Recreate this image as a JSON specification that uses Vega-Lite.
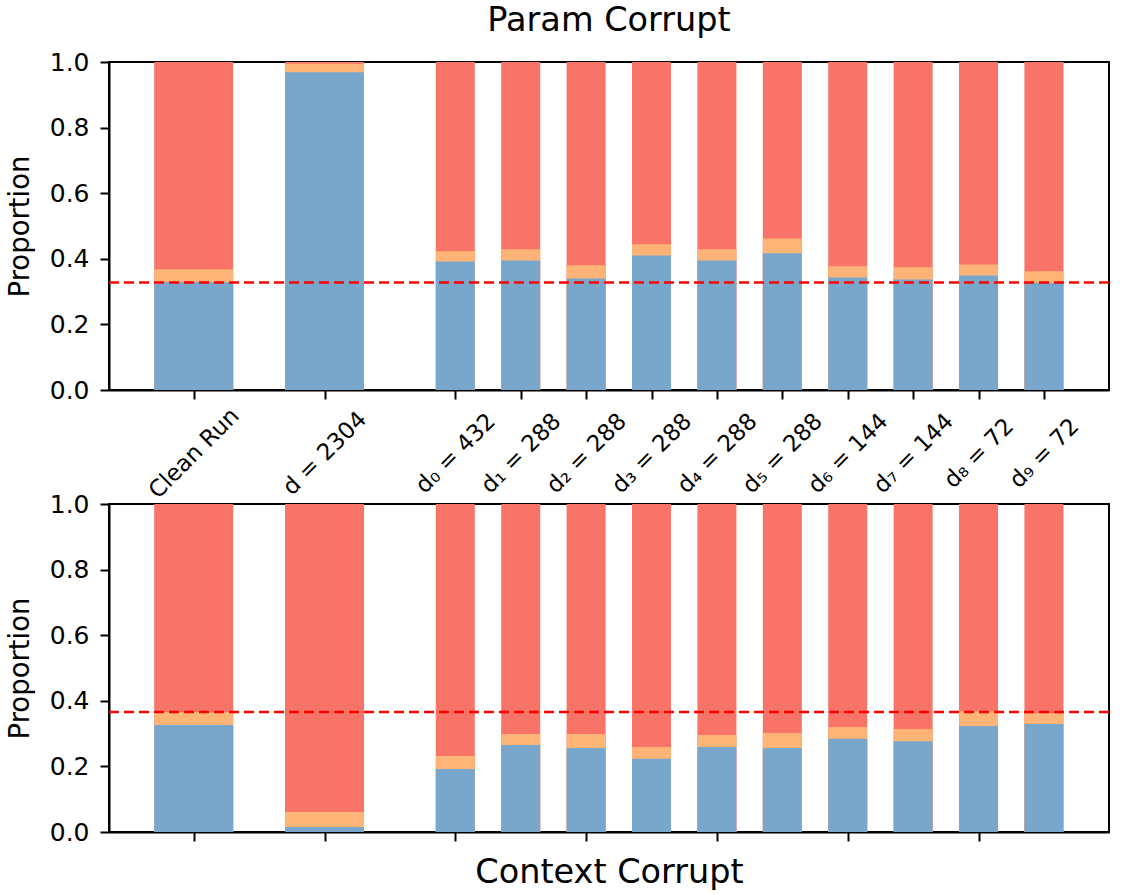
{
  "$schema": "https://vega.github.io/schema/vega-lite/v6.json",
  "padding": {"left": 5, "top": 2, "right": 5, "bottom": 5},
  "background": "white",
  "bounds": "flush",
  "spacing": 114,
  "config": {
    "font": "DejaVu Sans",
    "view": {"stroke": "black", "strokeWidth": 2},
    "axis": {"domainColor": "black", "domainWidth": 2, "tickColor": "black", "tickWidth": 2, "tickSize": 9, "labelColor": "black", "titleColor": "black", "grid": false, "titleFontWeight": "normal"},
    "title": {"fontWeight": "normal", "fontSize": 33.5, "color": "black"}
  },
  "datasets": {
    "bars": [
      {"panel": "Param Corrupt", "label": "Clean Run", "group": "overall", "lower": 0.329, "upper": 0.368},
      {"panel": "Param Corrupt", "label": "d = 2304", "group": "overall", "lower": 0.969, "upper": 0.995},
      {"panel": "Param Corrupt", "label": "d₀ = 432", "group": "sub", "lower": 0.392, "upper": 0.423},
      {"panel": "Param Corrupt", "label": "d₁ = 288", "group": "sub", "lower": 0.395, "upper": 0.429},
      {"panel": "Param Corrupt", "label": "d₂ = 288", "group": "sub", "lower": 0.340, "upper": 0.380},
      {"panel": "Param Corrupt", "label": "d₃ = 288", "group": "sub", "lower": 0.410, "upper": 0.444},
      {"panel": "Param Corrupt", "label": "d₄ = 288", "group": "sub", "lower": 0.395, "upper": 0.429},
      {"panel": "Param Corrupt", "label": "d₅ = 288", "group": "sub", "lower": 0.417, "upper": 0.462},
      {"panel": "Param Corrupt", "label": "d₆ = 144", "group": "sub", "lower": 0.343, "upper": 0.377},
      {"panel": "Param Corrupt", "label": "d₇ = 144", "group": "sub", "lower": 0.337, "upper": 0.374},
      {"panel": "Param Corrupt", "label": "d₈ = 72", "group": "sub", "lower": 0.349, "upper": 0.383},
      {"panel": "Param Corrupt", "label": "d₉ = 72", "group": "sub", "lower": 0.326, "upper": 0.362},
      {"panel": "Context Corrupt", "label": "Clean Run", "group": "overall", "lower": 0.326, "upper": 0.366},
      {"panel": "Context Corrupt", "label": "d = 2304", "group": "overall", "lower": 0.015, "upper": 0.061},
      {"panel": "Context Corrupt", "label": "d₀ = 432", "group": "sub", "lower": 0.192, "upper": 0.232},
      {"panel": "Context Corrupt", "label": "d₁ = 288", "group": "sub", "lower": 0.265, "upper": 0.299},
      {"panel": "Context Corrupt", "label": "d₂ = 288", "group": "sub", "lower": 0.256, "upper": 0.299},
      {"panel": "Context Corrupt", "label": "d₃ = 288", "group": "sub", "lower": 0.223, "upper": 0.259},
      {"panel": "Context Corrupt", "label": "d₄ = 288", "group": "sub", "lower": 0.259, "upper": 0.296},
      {"panel": "Context Corrupt", "label": "d₅ = 288", "group": "sub", "lower": 0.256, "upper": 0.302},
      {"panel": "Context Corrupt", "label": "d₆ = 144", "group": "sub", "lower": 0.284, "upper": 0.320},
      {"panel": "Context Corrupt", "label": "d₇ = 144", "group": "sub", "lower": 0.277, "upper": 0.314},
      {"panel": "Context Corrupt", "label": "d₈ = 72", "group": "sub", "lower": 0.323, "upper": 0.368},
      {"panel": "Context Corrupt", "label": "d₉ = 72", "group": "sub", "lower": 0.329, "upper": 0.362}
    ],
    "refs": [
      {"panel": "Param Corrupt", "value": 0.328},
      {"panel": "Context Corrupt", "value": 0.366}
    ]
  },
  "vconcat": [
    {
      "width": 1000,
      "height": 328,
      "title": {"text": "Param Corrupt", "anchor": "middle", "frame": "group", "offset": 12},
      "data": {"name": "bars"},
      "transform": [{"filter": "datum.panel === 'Param Corrupt'"}],
      "encoding": {
        "x": {
          "field": "label", "type": "nominal",
          "scale": {"type": "point", "domain": ["gap0", "Clean Run", "gap1", "d = 2304", "gap2", "d₀ = 432", "d₁ = 288", "d₂ = 288", "d₃ = 288", "d₄ = 288", "d₅ = 288", "d₆ = 144", "d₇ = 144", "d₈ = 72", "d₉ = 72"], "padding": 0.645, "align": 0.2287, "round": false},
          "axis": {"title": null, "values": ["Clean Run", "d = 2304", "d₀ = 432", "d₁ = 288", "d₂ = 288", "d₃ = 288", "d₄ = 288", "d₅ = 288", "d₆ = 144", "d₇ = 144", "d₈ = 72", "d₉ = 72"], "labelAngle": -45, "labelAlign": "center", "labelBaseline": "middle", "labelFontSize": 23, "labelPadding": 54, "labelOverlap": false, "labelBound": false}
        },
        "size": {"field": "group", "type": "ordinal", "scale": {"domain": ["overall", "sub"], "range": [79, 39]}, "legend": null}
      },
      "layer": [
        {
          "mark": {"type": "bar", "color": "#F87468"},
          "encoding": {"y": {"datum": 1, "type": "quantitative", "title": "Proportion", "scale": {"domain": [0, 1], "nice": false}, "axis": {"values": [0, 0.2, 0.4, 0.6, 0.8, 1], "format": ".1f", "labelFontSize": 25, "labelPadding": 11, "titleFontSize": 27.5, "titlePadding": 15}}}
        },
        {
          "mark": {"type": "bar", "color": "#FDB476"},
          "encoding": {"y": {"field": "upper", "type": "quantitative", "title": "Proportion"}}
        },
        {
          "mark": {"type": "bar", "color": "#78A7CB"},
          "encoding": {"y": {"field": "lower", "type": "quantitative", "title": "Proportion"}}
        },
        {
          "data": {"name": "refs"},
          "transform": [{"filter": "datum.panel === 'Param Corrupt'"}],
          "mark": {"type": "rule", "color": "#FF0000", "strokeDash": [10, 5], "strokeWidth": 2.5},
          "encoding": {"x": null, "size": null, "y": {"field": "value", "type": "quantitative", "title": "Proportion"}}
        }
      ]
    },
    {
      "width": 1000,
      "height": 328,
      "data": {"name": "bars"},
      "transform": [{"filter": "datum.panel === 'Context Corrupt'"}],
      "encoding": {
        "x": {
          "field": "label", "type": "nominal",
          "scale": {"type": "point", "domain": ["gap0", "Clean Run", "gap1", "d = 2304", "gap2", "d₀ = 432", "d₁ = 288", "d₂ = 288", "d₃ = 288", "d₄ = 288", "d₅ = 288", "d₆ = 144", "d₇ = 144", "d₈ = 72", "d₉ = 72"], "padding": 0.645, "align": 0.2287, "round": false},
          "axis": {"title": "Context Corrupt", "titleFontSize": 33.5, "titlePadding": 14, "values": ["Clean Run", "d = 2304", "d₀ = 432", "d₂ = 288", "d₄ = 288", "d₆ = 144", "d₈ = 72"], "labels": false}
        },
        "size": {"field": "group", "type": "ordinal", "scale": {"domain": ["overall", "sub"], "range": [79, 39]}, "legend": null}
      },
      "layer": [
        {
          "mark": {"type": "bar", "color": "#F87468"},
          "encoding": {"y": {"datum": 1, "type": "quantitative", "title": "Proportion", "scale": {"domain": [0, 1], "nice": false}, "axis": {"values": [0, 0.2, 0.4, 0.6, 0.8, 1], "format": ".1f", "labelFontSize": 25, "labelPadding": 11, "titleFontSize": 27.5, "titlePadding": 15}}}
        },
        {
          "mark": {"type": "bar", "color": "#FDB476"},
          "encoding": {"y": {"field": "upper", "type": "quantitative", "title": "Proportion"}}
        },
        {
          "mark": {"type": "bar", "color": "#78A7CB"},
          "encoding": {"y": {"field": "lower", "type": "quantitative", "title": "Proportion"}}
        },
        {
          "data": {"name": "refs"},
          "transform": [{"filter": "datum.panel === 'Context Corrupt'"}],
          "mark": {"type": "rule", "color": "#FF0000", "strokeDash": [10, 5], "strokeWidth": 2.5},
          "encoding": {"x": null, "size": null, "y": {"field": "value", "type": "quantitative", "title": "Proportion"}}
        }
      ]
    }
  ]
}
